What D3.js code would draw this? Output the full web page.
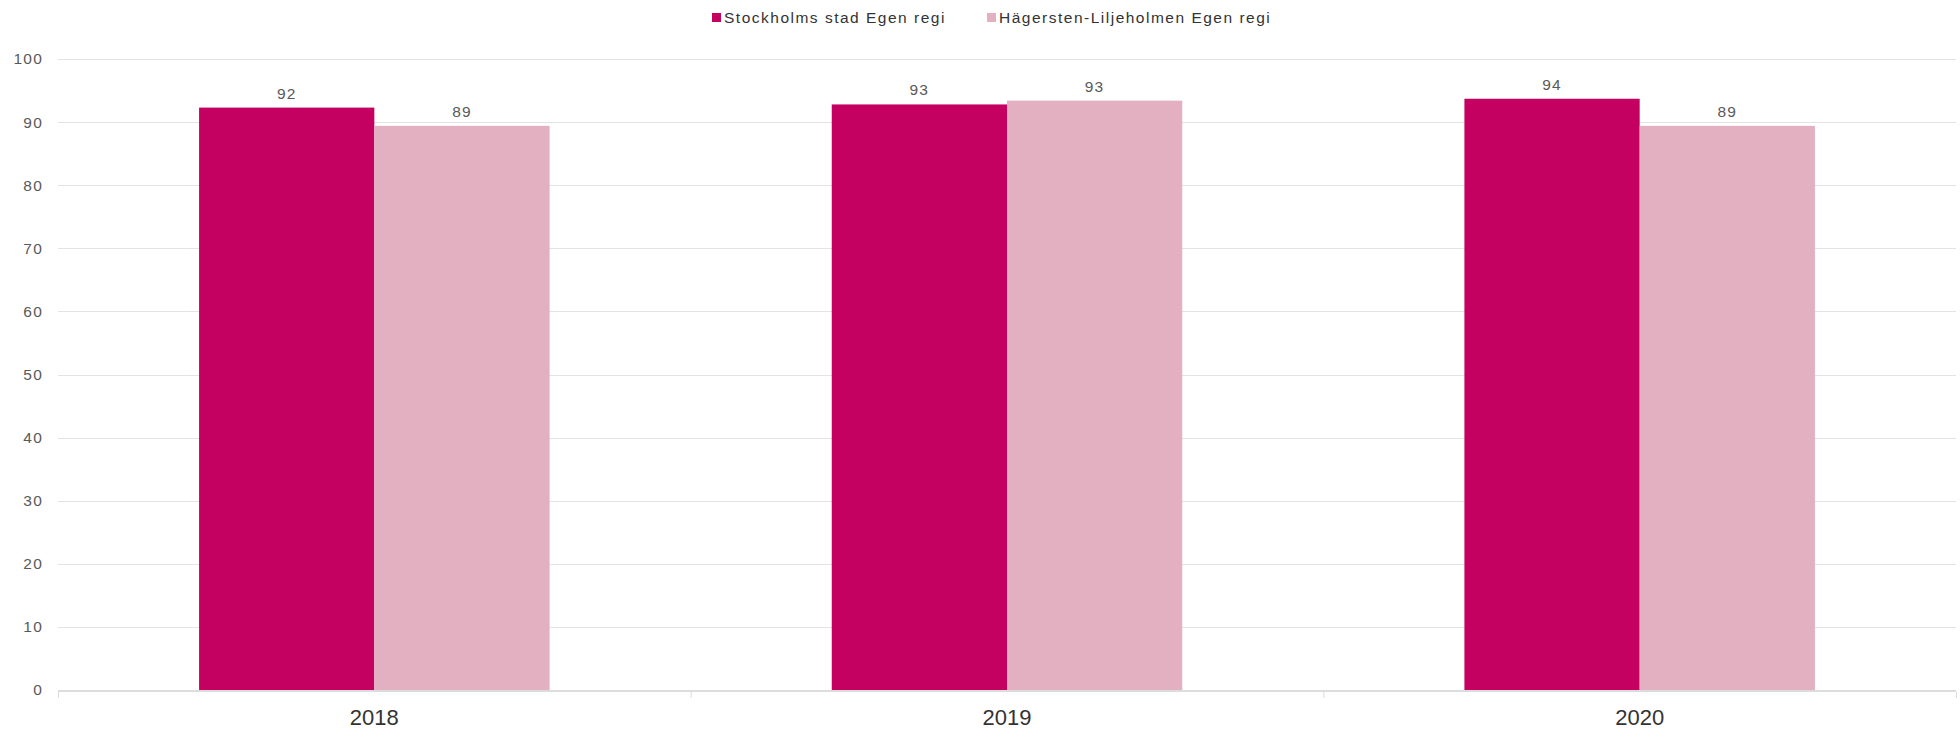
<!DOCTYPE html>
<html>
<head>
<meta charset="utf-8">
<script src="https://cdn.jsdelivr.net/npm/d3@7"></script>
<style>
  body { margin: 0; background: #fff; }
  svg { font-family: "Liberation Sans", Arial, sans-serif; }
  .grid line { stroke: #e3e3e3; stroke-width: 1px; }
</style>
</head>
<body>
<svg width="1960" height="729"></svg>
<script>

var years = ["2018", "2019", "2020"]
var seriesNames = ["Stockholms stad Egen regi", "Hägersten-Liljeholmen Egen regi"]
var stockholm = [92.3, 92.8, 93.7]
var hagersten = [89.4, 93.4, 89.4]
var yTicks = [0, 10, 20, 30, 40, 50, 60, 70, 80, 90, 100]
var colors = ["#c40060", "#e3b0c1"]

var svg = d3.select("svg"),
    width = +svg.attr("width"),
    height = +svg.attr("height");

// note: "top" is taken by window.top, so use plot* names
var plotLeft = 58, plotRight = 1956, plotTop = 59, plotBottom = 690

var rows = years.map(function (y, i) {
    return {year: y, values: [stockholm[i], hagersten[i]]}
})

var x = d3.scaleBand()
    .domain(years)
    .range([plotLeft, plotRight])
    .padding(0)

var x1 = d3.scaleBand()
    .domain([0, 1])
    .range([0, x.bandwidth()])
    .paddingOuter(0.805)
    .paddingInner(0)

var y = d3.scaleLinear()
    .domain([0, 100])
    .range([plotBottom, plotTop])

// gridlines
svg.append("g")
    .attr("class", "grid")
    .selectAll("line")
    .data(yTicks.filter(function (d) { return d > 0 }))
    .enter().append("line")
    .attr("x1", plotLeft)
    .attr("x2", plotRight)
    .attr("y1", function (d) { return Math.round(y(d)) + 0.5 })
    .attr("y2", function (d) { return Math.round(y(d)) + 0.5 })

// y labels
svg.append("g")
    .selectAll("text")
    .data(yTicks)
    .enter().append("text")
    .attr("x", 43)
    .attr("y", function (d) { return y(d) })
    .attr("dy", "0.35em")
    .style("text-anchor", "end")
    .style("font-size", "15.5px")
    .style("letter-spacing", "1.2px")
    .style("fill", "#595959")
    .text(function (d) { return d })

// bars
var group = svg.append("g")
    .selectAll("g")
    .data(rows)
    .enter().append("g")
    .attr("transform", function (d) { return "translate(" + x(d.year) + ",0)" })

group.selectAll("rect")
    .data(function (d) { return d.values })
    .enter().append("rect")
    .attr("x", function (d, i) { return x1(i) })
    .attr("width", x1.bandwidth())
    .attr("y", function (d) { return y(d) })
    .attr("height", function (d) { return y(0) - y(d) })
    .style("fill", function (d, i) { return colors[i] })

group.selectAll("text")
    .data(function (d) { return d.values })
    .enter().append("text")
    .attr("x", function (d, i) { return x1(i) + x1.bandwidth() / 2 })
    .attr("y", function (d) { return y(d) - 9 })
    .style("text-anchor", "middle")
    .style("font-size", "15.5px")
    .style("letter-spacing", "1.2px")
    .style("fill", "#595959")
    .text(function (d) { return Math.round(d) })

// x axis
var xAxis = svg.append("g")
svg.append("line")
    .attr("x1", plotLeft)
    .attr("x2", plotRight)
    .attr("y1", plotBottom + 1)
    .attr("y2", plotBottom + 1)
    .style("stroke", "#dcdcdc")
    .style("stroke-width", "2px")

xAxis.selectAll("line")
    .data(years.concat(["end"]))
    .enter().append("line")
    .attr("x1", function (d) { return (d == "end" ? plotRight : x(d)) + 0.5 })
    .attr("x2", function (d) { return (d == "end" ? plotRight : x(d)) + 0.5 })
    .attr("y1", plotBottom + 2)
    .attr("y2", plotBottom + 8)
    .style("stroke", "#dcdcdc")
    .style("stroke-width", "1px")

xAxis.selectAll("text")
    .data(years)
    .enter().append("text")
    .attr("x", function (d) { return x(d) + x.bandwidth() / 2 })
    .attr("y", 725)
    .style("text-anchor", "middle")
    .style("font-size", "22px")
    .style("fill", "#333")
    .text(function (d) { return d })

// legend
var legendX = [712, 987]
var legend = svg.selectAll(".legend")
    .data(seriesNames)
    .enter().append("g")
    .attr("class", "legend")
    .attr("transform", function (d, i) { return "translate(" + legendX[i] + ",13)" })
legend.append("rect")
    .attr("width", 9)
    .attr("height", 9)
    .style("fill", function (d, i) { return colors[i] })
legend.append("text")
    .attr("x", 12)
    .attr("y", 10)
    .style("font-size", "15.5px")
    .style("letter-spacing", "1.5px")
    .style("fill", "#333")
    .text(function (d) { return d })

</script>
</body>
</html>
